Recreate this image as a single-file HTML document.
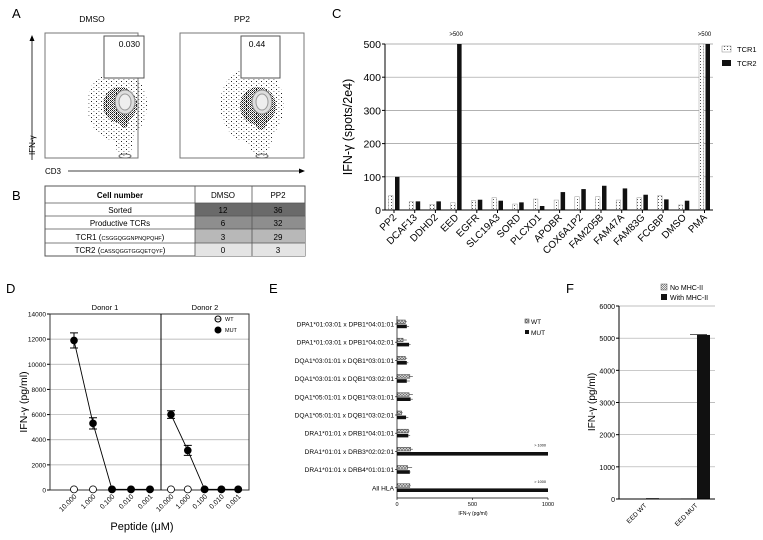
<!DOCTYPE html>
<html><head><meta charset="utf-8">
<style>
html,body{margin:0;padding:0;background:#fff;}
svg{display:block;font-family:"Liberation Sans",sans-serif;}
</style></head>
<body>
<svg id="fig" width="763" height="540" viewBox="0 0 763 540" xmlns="http://www.w3.org/2000/svg">
<defs>
<pattern id="dots" width="3" height="3" patternUnits="userSpaceOnUse"><rect width="3" height="3" fill="#fff"/><rect x="1" y="1" width="1" height="1" fill="#555"/></pattern>
<pattern id="sparse" width="5" height="4" patternUnits="userSpaceOnUse"><rect x="1" y="1" width="1" height="1" fill="#222"/><rect x="3.5" y="3" width="0.8" height="0.8" fill="#333"/></pattern>
<pattern id="dense" width="2" height="2" patternUnits="userSpaceOnUse"><rect width="1" height="1" fill="#111"/><rect x="1" y="1" width="0.8" height="0.8" fill="#333"/></pattern>
<pattern id="xhatch" width="3" height="3" patternUnits="userSpaceOnUse"><rect width="3" height="3" fill="#ddd"/><path d="M0,0L3,3M3,0L0,3" stroke="#666" stroke-width="0.6"/></pattern>
<pattern id="check" width="2" height="2" patternUnits="userSpaceOnUse"><rect width="2" height="2" fill="#eee"/><rect width="1" height="1" fill="#888"/><rect x="1" y="1" width="1" height="1" fill="#888"/></pattern>
</defs>

<text x="12" y="18" font-size="13">A</text>
<text x="12" y="200" font-size="13">B</text>
<text x="332" y="18" font-size="13">C</text>
<text x="6" y="293" font-size="13">D</text>
<text x="269" y="293" font-size="13">E</text>
<text x="566" y="293" font-size="13">F</text>

<!-- Panel A -->
<g>
<text x="92" y="22" font-size="8.5" text-anchor="middle">DMSO</text>
<text x="242" y="22" font-size="8.5" text-anchor="middle">PP2</text>
<rect x="45" y="33" width="93" height="125" fill="none" stroke="#777"/>
<rect x="180" y="33" width="124" height="125" fill="none" stroke="#777"/>
<g>
<ellipse cx="117" cy="105" rx="30" ry="36" fill="url(#sparse)"/>
<ellipse cx="124" cy="135" rx="10" ry="22" fill="url(#sparse)"/>
<ellipse cx="120" cy="105" rx="17" ry="18" fill="url(#dense)"/>
<ellipse cx="124" cy="118" rx="5" ry="10" fill="url(#dense)"/>
<ellipse cx="125" cy="102" rx="10" ry="12" fill="#ddd" stroke="#888"/>
<ellipse cx="125" cy="102" rx="6" ry="8" fill="#eee" stroke="#999"/>
<ellipse cx="125" cy="156" rx="6" ry="2" fill="none" stroke="#666"/>
</g>
<rect x="104" y="36" width="40" height="42" fill="#fff" stroke="#555"/>
<text x="140" y="47" font-size="8.5" text-anchor="end">0.030</text>
<g>
<ellipse cx="252" cy="105" rx="32" ry="38" fill="url(#sparse)"/>
<ellipse cx="260" cy="137" rx="12" ry="20" fill="url(#sparse)"/>
<ellipse cx="258" cy="106" rx="18" ry="19" fill="url(#dense)"/>
<ellipse cx="261" cy="120" rx="6" ry="10" fill="url(#dense)"/>
<ellipse cx="262" cy="102" rx="10" ry="12" fill="#ddd" stroke="#888"/>
<ellipse cx="262" cy="102" rx="6" ry="8" fill="#eee" stroke="#999"/>
<ellipse cx="262" cy="156" rx="6" ry="2" fill="none" stroke="#666"/>
</g>
<rect x="241" y="36" width="39" height="42" fill="#fff" stroke="#555"/>
<text x="257" y="47" font-size="8.5" text-anchor="middle">0.44</text>
<line x1="32" y1="160" x2="32" y2="40" stroke="#000" stroke-width="0.8"/>
<path d="M29.5,41L32,35L34.5,41Z"/>
<text transform="translate(35,155) rotate(-90)" font-size="8">IFN-γ</text>
<text x="45" y="174" font-size="8">CD3</text>
<line x1="68" y1="171" x2="300" y2="171" stroke="#000" stroke-width="0.8"/>
<path d="M299,168.5L305,171L299,173.5Z"/>
</g>

<!-- Panel B -->
<g font-size="8" text-anchor="middle">
<rect x="45" y="186" width="260" height="70" fill="#fff" stroke="#555"/>
<rect x="195" y="203" width="110" height="13" fill="#6a6a6a"/>
<rect x="195" y="216" width="110" height="13" fill="#8e8e8e"/>
<rect x="195" y="229" width="110" height="14" fill="#b8b8b8"/>
<rect x="195" y="243" width="110" height="13" fill="#e4e4e4"/>
<path d="M45,203H305M45,216H305M45,229H305M45,243H305M195,186V256M252,186V256" stroke="#555" stroke-width="0.8" fill="none"/>
<text x="120" y="198" font-weight="bold">Cell number</text><text x="223" y="198">DMSO</text><text x="278" y="198">PP2</text>
<text x="120" y="213">Sorted</text><text x="223" y="213">12</text><text x="278" y="213">36</text>
<text x="120" y="226">Productive TCRs</text><text x="223" y="226">6</text><text x="278" y="226">32</text>
<text x="120" y="240">TCR1 (<tspan font-size="5.5">CSGGQGGNPNQPQHF</tspan>)</text><text x="223" y="240">3</text><text x="278" y="240">29</text>
<text x="120" y="253">TCR2 (<tspan font-size="5.5">CASSQGGTGGQETQYF</tspan>)</text><text x="223" y="253">0</text><text x="278" y="253">3</text>
</g>

<g id="pc"></g>
<g id="pd"></g>
<g id="pe"></g>
<g id="pf"></g>
</svg>
<script>
// ---- Panel C data ----
const cCats = ["PP2","DCAF13","DDHD2","EED","EGFR","SLC19A3","SORD","PLCXD1","APOBR","COX6A1P2","FAM205B","FAM47A","FAM83G","FCGBP","DMSO","PMA"];
const cTCR1 = [43,25,17,22,28,37,18,33,30,40,40,30,37,43,15,500];
const cTCR2 = [100,26,26,500,31,28,23,12,54,63,73,65,46,32,28,500];
const cTicks = [0,100,200,300,400,500];
// ---- Panel D data ----
const dDoses = ["10.000","1.000","0.100","0.010","0.001"];
const dD1Mut = [11900,5300,50,50,50];
const dD1MutErr = [600,450,0,0,0];
const dD1Wt = [50,50,50,50,50];
const dD2Mut = [6000,3150,50,50,50];
const dD2MutErr = [300,400,0,0,0];
const dD2Wt = [50,50,50,50,50];
const dTicks = [0,2000,4000,6000,8000,10000,12000,14000];
// ---- Panel E data ----
const eCats = ["DPA1*01:03:01 x DPB1*04:01:01","DPA1*01:03:01 x DPB1*04:02:01","DQA1*03:01:01 x DQB1*03:01:01","DQA1*03:01:01 x DQB1*03:02:01","DQA1*05:01:01 x DQB1*03:01:01","DQA1*05:01:01 x DQB1*03:02:01","DRA1*01:01 x DRB1*04:01:01","DRA1*01:01 x DRB3*02:02:01","DRA1*01:01 x DRB4*01:01:01","All HLA"];
const eWT = [55,40,55,85,80,30,75,90,70,85];
const eWTErr = [10,25,12,20,25,8,8,15,30,5];
const eMUT = [65,80,65,65,90,60,75,1000,85,1000];
const eMUTErr = [15,10,10,20,15,15,12,0,5,0];
const eTicks = [0,500,1000];
// ---- Panel F data ----
const fCats = ["EED WT","EED MUT"];
const fNo = [5,10];
const fWith = [25,5100];
const fTicks = [0,1000,2000,3000,4000,5000,6000];

const NS="http://www.w3.org/2000/svg";
function mk(parent,tag,attrs,txt){const e=document.createElementNS(NS,tag);for(const k in attrs)e.setAttribute(k,attrs[k]);if(txt!==undefined)e.textContent=txt;parent.appendChild(e);return e;}

// Panel C
(function(){
 const g=document.getElementById('pc');
 const x0=385,x1=713,yT=44,yB=210,max=500;
 const y=v=>yB-(Math.min(v,max)/max)*(yB-yT);
 const step=20.7, first=394;
 const cx=i=>first+i*step;
 cTicks.forEach(t=>{
  if(t>0){const l=mk(g,'line',{x1:x0,x2:x1,y1:y(t),y2:y(t),stroke:'#999','stroke-width':0.7});
  
  }
  mk(g,'line',{x1:x0-3,x2:x0,y1:y(t),y2:y(t),stroke:'#000'});
  const tx=mk(g,'text',{x:x0-4,y:y(t)+4,'font-size':10.5,'text-anchor':'end'},t);
  
  
 });
 cCats.forEach((c,i)=>{
  const b1=mk(g,'rect',{x:cx(i)-5.5,y:y(cTCR1[i]),width:4.5,height:yB-y(cTCR1[i]),fill:'url(#dots)',stroke:'#999','stroke-width':0.5});
  
  
  const b2=mk(g,'rect',{x:cx(i)+1,y:y(cTCR2[i]),width:4.5,height:yB-y(cTCR2[i]),fill:'#111'});
  
  
  mk(g,'line',{x1:cx(i),x2:cx(i),y1:yB,y2:yB+3,stroke:'#000'});
  const lb=mk(g,'text',{transform:`translate(${cx(i)+3},${yB+8}) rotate(-45)`,'font-size':10,'text-anchor':'end'},c);
  
  
  if(Math.max(cTCR1[i],cTCR2[i])>=max){const o=mk(g,'text',{x:cx(i),y:36,'font-size':6,'text-anchor':'middle'},'>500');
  
  }
 });
 mk(g,'path',{d:`M${x0},${yT}V${yB}H${x1}`,stroke:'#000',fill:'none','stroke-width':1});
 const yl=mk(g,'text',{transform:'translate(352,127) rotate(-90)','font-size':12.5,'text-anchor':'middle'},'IFN-γ (spots/2e4)');
 
 
 const l1=mk(g,'rect',{x:722,y:46,width:9,height:6,fill:'url(#dots)',stroke:'#888','stroke-width':0.5});
 
 
 mk(g,'text',{x:737,y:52,'font-size':7.5},'TCR1');
 const l2=mk(g,'rect',{x:722,y:60,width:9,height:6,fill:'#111'});
 
 
 mk(g,'text',{x:737,y:66,'font-size':7.5},'TCR2');
})();

// Panel D
(function(){
 const g=document.getElementById('pd');
 const x0=50,x1=249,xm=161,yT=314,yB=490,max=14000;
 const y=v=>yB-(v/max)*(yB-yT);
 const p1=i=>74+i*19, p2=i=>171+i*16.8;
 dTicks.forEach(t=>{
  if(t>0){const l=mk(g,'line',{x1:x0,x2:x1,y1:y(t),y2:y(t),stroke:'#aaa','stroke-width':0.7});
  
  }
  mk(g,'line',{x1:x0-3,x2:x0,y1:y(t),y2:y(t),stroke:'#000'});
  const tx=mk(g,'text',{x:x0-4,y:y(t)+2.5,'font-size':6.5,'text-anchor':'end'},t);
  
  
 });
 mk(g,'rect',{x:x0,y:yT,width:x1-x0,height:yB-yT,fill:'none',stroke:'#333'});
 mk(g,'line',{x1:xm,x2:xm,y1:yT,y2:yB,stroke:'#000'});
 mk(g,'text',{x:105,y:310,'font-size':7.5,'text-anchor':'middle'},'Donor 1');
 mk(g,'text',{x:205,y:310,'font-size':7.5,'text-anchor':'middle'},'Donor 2');
 function series(pos,mut,err,wt){
  let d='';mut.forEach((v,i)=>{d+=(i?'L':'M')+pos(i)+','+y(v);});
  mk(g,'path',{d:d,stroke:'#000',fill:'none','stroke-width':0.9});
  mut.forEach((v,i)=>{ if(err[i]>0){const e=mk(g,'path',{d:`M${pos(i)},${y(v+err[i])}V${y(v-err[i])}M${pos(i)-4},${y(v+err[i])}H${pos(i)+4}M${pos(i)-4},${y(v-err[i])}H${pos(i)+4}`,stroke:'#000',fill:'none'});
   
   }});
  wt.forEach((v,i)=>{const c=mk(g,'circle',{cx:pos(i),cy:y(v),r:3.5,fill:'#fff',stroke:'#000','stroke-width':0.8});
   
   });
  mut.forEach((v,i)=>{const c=mk(g,'circle',{cx:pos(i),cy:y(v),r:3.8,fill:'#000'});
   
   });
  dDoses.forEach((s,i)=>{const t=mk(g,'text',{transform:`translate(${pos(i)+3},${yB+7}) rotate(-45)`,'font-size':7,'text-anchor':'end'},s);
   
   });
 }
 series(p1,dD1Mut,dD1MutErr,dD1Wt);
 series(p2,dD2Mut,dD2MutErr,dD2Wt);
 const yl=mk(g,'text',{transform:'translate(27,402) rotate(-90)','font-size':10.5,'text-anchor':'middle'},'IFN-γ (pg/ml)');
 
 
 const xl=mk(g,'text',{x:142,y:530,'font-size':11,'text-anchor':'middle'},'Peptide (μM)');
 
 
 const lw=mk(g,'circle',{cx:218,cy:319,r:3,fill:'#fff',stroke:'#000'});
 
 
 mk(g,'line',{x1:215,x2:221,y1:319,y2:319,stroke:'#000','stroke-width':0.6});
 mk(g,'text',{x:225,y:321,'font-size':5.5},'WT');
 const lm=mk(g,'circle',{cx:218,cy:330,r:3.5,fill:'#000'});
 
 
 mk(g,'text',{x:225,y:332,'font-size':5.5},'MUT');
})();

// Panel E
(function(){
 const g=document.getElementById('pe');
 const x0=397,x1=548,yT=316,yB=498,max=1000;
 const x=v=>x0+(Math.min(v,max)/max)*(x1-x0);
 const rc=i=>324+i*18.2;
 eCats.forEach((c,i)=>{
  const yc=rc(i);
  const b1=mk(g,'rect',{x:x0,y:yc-4,width:x(eWT[i])-x0,height:3.6,fill:'url(#xhatch)',stroke:'#333','stroke-width':0.5});
  
  
  if(eWTErr[i]>0)mk(g,'path',{d:`M${x(eWT[i])},${yc-2.2}H${x(eWT[i]+eWTErr[i])}`,stroke:'#333','stroke-width':0.6});
  const b2=mk(g,'rect',{x:x0,y:yc+0.6,width:x(eMUT[i])-x0,height:3.6,fill:'#111'});
  
  
  if(eMUTErr[i]>0)mk(g,'path',{d:`M${x(eMUT[i])},${yc+2.4}H${x(eMUT[i]+eMUTErr[i])}`,stroke:'#333','stroke-width':0.6});
  if(eMUT[i]>=max){const o=mk(g,'text',{x:x1-2,y:yc-5,'font-size':3.8,'text-anchor':'end'},'> 1000');
   
   }
  mk(g,'line',{x1:x0-2,x2:x0,y1:yc,y2:yc,stroke:'#000','stroke-width':0.6});
  const t=mk(g,'text',{x:x0-3,y:yc+2.5,'font-size':6.6,'text-anchor':'end'},c);
  
  
 });
 mk(g,'path',{d:`M${x0},${yT}V${yB}H${x1}`,stroke:'#000',fill:'none','stroke-width':0.7});
 eTicks.forEach(t=>{
  mk(g,'line',{x1:x(t),x2:x(t),y1:yB,y2:yB+2,stroke:'#000','stroke-width':0.6});
  const tx=mk(g,'text',{x:x(t),y:yB+8,'font-size':5.5,'text-anchor':'middle'},t);
  
  
 });
 const xl=mk(g,'text',{x:473,y:515,'font-size':5,'text-anchor':'middle'},'IFN-γ (pg/ml)');
 
 
 const l1=mk(g,'rect',{x:525,y:319,width:4,height:4,fill:'url(#xhatch)',stroke:'#333','stroke-width':0.5});
 
 
 mk(g,'text',{x:531,y:324,'font-size':6.5},'WT');
 const l2=mk(g,'rect',{x:525,y:330,width:4,height:4,fill:'#111'});
 
 
 mk(g,'text',{x:531,y:335,'font-size':6.5},'MUT');
})();

// Panel F
(function(){
 const g=document.getElementById('pf');
 const x0=619,x1=715,yT=306,yB=499,max=6000;
 const y=v=>yB-(v/max)*(yB-yT);
 const gc=[644,695];
 fTicks.forEach(t=>{
  if(t>0){const l=mk(g,'line',{x1:x0,x2:x1,y1:y(t),y2:y(t),stroke:'#aaa','stroke-width':0.7});
  
  }
  mk(g,'line',{x1:x0-3,x2:x0,y1:y(t),y2:y(t),stroke:'#000'});
  const tx=mk(g,'text',{x:x0-4,y:y(t)+3,'font-size':7,'text-anchor':'end'},t);
  
  
 });
 fCats.forEach((c,i)=>{
  const b1=mk(g,'rect',{x:gc[i]-14,y:y(fNo[i]),width:13,height:yB-y(fNo[i]),fill:'url(#check)',stroke:'#555','stroke-width':0.5});
  
  
  const b2=mk(g,'rect',{x:gc[i]+2,y:y(fWith[i]),width:13,height:yB-y(fWith[i]),fill:'#111'});
  
  
  const t=mk(g,'text',{transform:`translate(${gc[i]+3},${yB+7}) rotate(-45)`,'font-size':6.5,'text-anchor':'end'},c);
  
  
 });
 mk(g,'line',{x1:690,x2:707,y1:y(5120),y2:y(5120),stroke:'#000','stroke-width':0.6});
 mk(g,'path',{d:`M${x0},${yT}V${yB}H${x1}`,stroke:'#000',fill:'none','stroke-width':1});
 const yl=mk(g,'text',{transform:'translate(595,402) rotate(-90)','font-size':10,'text-anchor':'middle'},'IFN-γ (pg/ml)');
 
 
 const l1=mk(g,'rect',{x:661,y:284,width:6,height:6,fill:'url(#check)',stroke:'#555','stroke-width':0.5});
 
 
 mk(g,'text',{x:670,y:290,'font-size':7},'No MHC-II');
 const l2=mk(g,'rect',{x:661,y:294,width:6,height:6,fill:'#111'});
 
 
 mk(g,'text',{x:670,y:300,'font-size':7},'With MHC-II');
})();
</script>
</body></html>
